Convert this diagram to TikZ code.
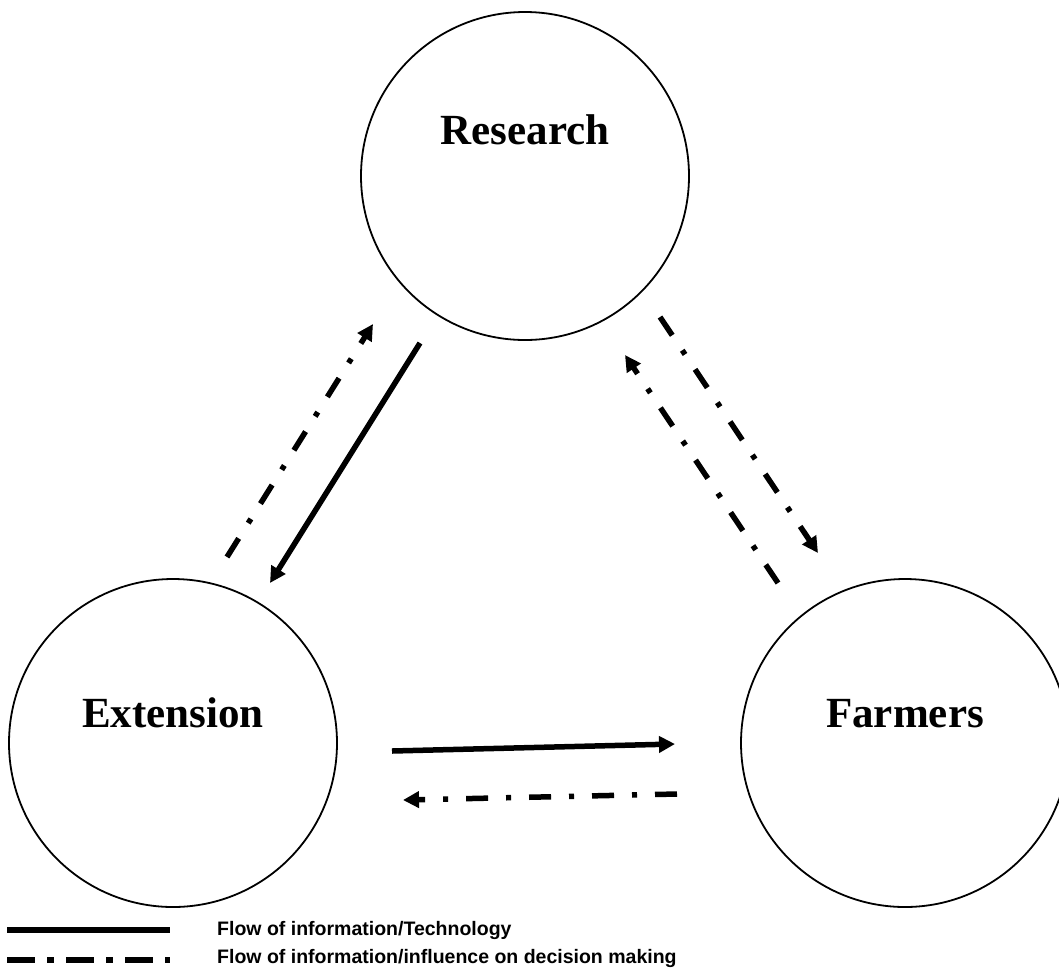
\documentclass[tikz,border=0pt]{standalone}
\usepackage{fontspec}
\setmainfont{Liberation Serif}
\newfontfamily\legfont{Liberation Sans}
\usetikzlibrary{arrows.meta}
\begin{document}
\begin{tikzpicture}[x=1pt,y=-1pt,
  circ/.style={draw,circle,line width=1.8pt,minimum size=328pt,inner sep=0pt},
  lab/.style={font=\bfseries\fontsize{43}{46}\selectfont,inner sep=0pt},
  tip/.style={-{Triangle[length=16pt,width=16pt]}},
  solidarrow/.style={line width=5.5pt,tip},
  dasharrow/.style={line width=5.5pt,tip,dash pattern=on 22pt off 18pt on 5pt off 18pt},
  legtext/.style={font=\legfont\bfseries\fontsize{19.5}{22}\selectfont,anchor=west,inner sep=0pt}]
\useasboundingbox (0,0) rectangle (1059,970);
\clip (0,0) rectangle (1059,970);
% nodes
\node[circ] (R) at (525,176) {};
\node[circ] (E) at (173,743) {};
\node[circ] (F) at (905,743) {};
\node[lab] (Rt) at (525,130) {Research};
\node[lab] (Et) at (173,713) {Extension};
\node[lab] (Ft) at (905,714) {Farmers};
% connector ends
\coordinate (a1) at (420,343); \coordinate (a2) at (270,583);
\coordinate (b1) at (227,557); \coordinate (b2) at (373,324);
\coordinate (c1) at (660,317); \coordinate (c2) at (818,553);
\coordinate (d1) at (778,583); \coordinate (d2) at (625,355);
\coordinate (e1) at (392,751); \coordinate (e2) at (675,744);
\coordinate (f1) at (677,794); \coordinate (f2) at (403,800);
\draw[solidarrow] (a1) -- (a2);
\draw[dasharrow] (b1) -- (b2);
\draw[dasharrow] (c1) -- (c2);
\draw[dasharrow] (d1) -- (d2);
\draw[solidarrow] (e1) -- (e2);
\draw[dasharrow] (f1) -- (f2);
% legend
\coordinate (l1) at (7,930); \coordinate (l2) at (170,930);
\coordinate (m1) at (7,960); \coordinate (m2) at (170,960);
\draw[line width=6.5pt] (l1) -- (l2);
\draw[line width=6.5pt,dash pattern=on 28pt off 12pt on 7pt off 12pt] (m1) -- (m2);
\node[legtext] (t1) at (217,930) {Flow of information/Technology};
\node[legtext] (t2) at (217,958) {Flow of information/influence on decision making};
\end{tikzpicture}
\end{document}
